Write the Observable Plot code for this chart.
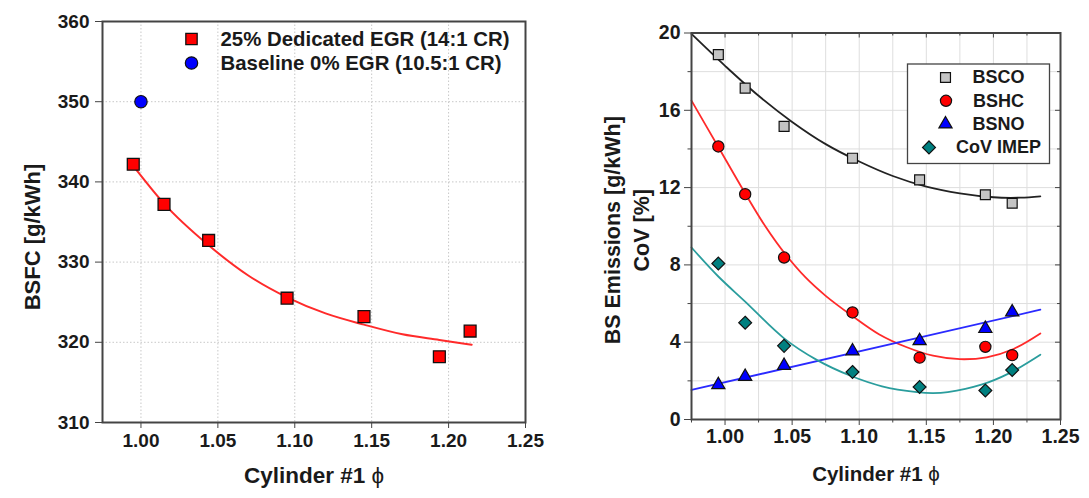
<!DOCTYPE html>
<html><head><meta charset="utf-8">
<script src="https://cdn.jsdelivr.net/npm/d3@7"></script>
<script src="https://cdn.jsdelivr.net/npm/@observablehq/plot@0.6"></script>
<style>
html,body{margin:0;padding:0;background:#fff;}
#wrap{position:relative;width:1089px;height:498px;overflow:hidden;background:#fff;}
#wrap svg{position:absolute;top:0;}
</style></head><body><div id="wrap"></div>
<script>
// ---------- DATA ----------
// shared equivalence ratios of the measured points
const phi = [0.995, 1.015, 1.044, 1.095, 1.145, 1.194, 1.214];

// left panel: BSFC
const bsfcEGR = [342.2, 337.2, 332.7, 325.5, 323.2, 318.2, 321.4];
const baselinePhi = [1.00];
const baselineBSFC = [350.0];
const bsfcFitPhi = [0.995, 1.015, 1.044, 1.07, 1.095, 1.12, 1.145, 1.17, 1.194, 1.215];
const bsfcFit    = [342.0, 337.3, 332.1, 328.3, 325.6, 323.6, 322.2, 321.0, 320.3, 319.7];
const leftLegend = ["25% Dedicated EGR (14:1 CR)", "Baseline 0% EGR (10.5:1 CR)"];

// right panel: emissions / CoV
const bsco    = [18.88, 17.15, 15.17, 13.52, 12.40, 11.63, 11.19];
const bshc    = [14.13, 11.66, 8.38, 5.54, 3.20, 3.76, 3.33];
const bsno    = [1.79, 2.22, 2.79, 3.54, 4.07, 4.70, 5.56];
const covImep = [8.07, 5.01, 3.81, 2.46, 1.68, 1.50, 2.56];

const bscoFitPhi = [0.975, 1.0, 1.025, 1.05, 1.075, 1.10, 1.125, 1.15, 1.175, 1.20, 1.22, 1.235];
const bscoFit    = [19.95, 18.3, 16.75, 15.4, 14.25, 13.35, 12.6, 12.05, 11.7, 11.5, 11.48, 11.55];
const bshcFitPhi = [0.975, 0.995, 1.015, 1.03, 1.045, 1.06, 1.075, 1.095, 1.115, 1.135, 1.155, 1.175, 1.195, 1.215, 1.235];
const bshcFit    = [16.5, 14.1, 11.7, 10.0, 8.55, 7.35, 6.4, 5.35, 4.4, 3.75, 3.3, 3.12, 3.22, 3.65, 4.45];
const bsnoFitPhi = [0.975, 1.235];
const bsnoFit    = [1.53, 5.68];
const covFitPhi  = [0.975, 0.995, 1.015, 1.044, 1.068, 1.094, 1.117, 1.143, 1.155, 1.166, 1.191, 1.212, 1.235];
const covFit     = [8.9, 7.4, 6.1, 4.2, 3.1, 2.25, 1.72, 1.42, 1.37, 1.42, 1.8, 2.4, 3.35];
const rightLegend = ["BSCO", "BSHC", "BSNO", "CoV IMEP"];

// ticks
const xMajor = [1.00, 1.05, 1.10, 1.15, 1.20, 1.25];
const xMinor = [0.975, 1.025, 1.075, 1.125, 1.175, 1.225];
const yLeftTicks = [310, 320, 330, 340, 350, 360];
const yRightMajor = [0, 4, 8, 12, 16, 20];
const yRightMinor = [2, 6, 10, 14, 18];

// ---------- BUILD ----------
const FONT = '"Liberation Sans", Arial, Helvetica, sans-serif';
const wrap = document.getElementById("wrap");
const pts = (xs, ys) => xs.map((x, i) => ({x, y: ys[i]}));
const fmt = d => d.toFixed(2);
const ctx = document.createElement("canvas").getContext("2d");
function textW(s, size) { ctx.font = `bold ${size}px ${FONT}`; return ctx.measureText(s).width; }

// Left panel
const LM = {l: 102, r: 20, t: 21, b: 76}, LW = 545, H = 498;
const left = Plot.plot({
  width: LW, height: H,
  marginLeft: LM.l, marginRight: LM.r, marginTop: LM.t, marginBottom: LM.b,
  style: {fontFamily: FONT, fontSize: "19px", fontWeight: "bold", color: "#1a1a1a", background: "transparent", overflow: "visible"},
  x: {domain: [0.975, 1.25]},
  y: {domain: [310, 360]},
  marks: [
    Plot.gridX({ticks: xMajor, stroke: "#c8c8c8", strokeOpacity: 1, strokeDasharray: "1.5,2"}),
    Plot.gridY({ticks: yLeftTicks, stroke: "#c8c8c8", strokeOpacity: 1, strokeDasharray: "1.5,2"}),
    Plot.line(pts(bsfcFitPhi, bsfcFit), {x: "x", y: "y", stroke: "#ff2a2a", strokeWidth: 2, curve: "monotone-x"}),
    Plot.dot(pts(phi, bsfcEGR), {x: "x", y: "y", symbol: "square", r: 6.7, fill: "#ff0000", stroke: "#111", strokeWidth: 1.3}),
    Plot.dot(pts(baselinePhi, baselineBSFC), {x: "x", y: "y", symbol: "circle", r: 6.2, fill: "#0000ff", stroke: "#111", strokeWidth: 1.2}),
    Plot.frame({stroke: "#444", strokeWidth: 2}),
    Plot.axisX({ticks: xMajor, tickFormat: fmt, tickSize: 6, tickPadding: 5, label: null, stroke: "#444"}),
    Plot.axisY({ticks: yLeftTicks, tickSize: 7, tickPadding: 6, label: null, stroke: "#444"}),
    Plot.text(["BSFC [g/kWh]"], {text: d => d, frameAnchor: "left", rotate: -90, dx: -70, dy: 15, fontSize: 22, fontWeight: "bold", textAnchor: "middle", lineAnchor: "middle"}),
    Plot.text(["Cylinder #1 ϕ"], {text: d => d, frameAnchor: "bottom", dy: 53, fontSize: 22.5, fontWeight: "bold", textAnchor: "middle", lineAnchor: "middle"}),
    // legend
    Plot.dot([leftLegend[0]], {frameAnchor: "top-left", dx: 89, dy: 17.5, symbol: "square", r: 6.4, fill: "#ff0000", stroke: "#111", strokeWidth: 1.3}),
    Plot.dot([leftLegend[1]], {frameAnchor: "top-left", dx: 89, dy: 41.5, symbol: "circle", r: 6.2, fill: "#0000ff", stroke: "#111", strokeWidth: 1.2}),
    Plot.text([leftLegend[0]], {text: d => d, frameAnchor: "top-left", dx: 118, dy: 18, fontSize: 20.4, fontWeight: "bold", textAnchor: "start", lineAnchor: "middle"}),
    Plot.text([leftLegend[1]], {text: d => d, frameAnchor: "top-left", dx: 118, dy: 42, fontSize: 20.4, fontWeight: "bold", textAnchor: "start", lineAnchor: "middle"})
  ]
});
left.style.left = "0px";
wrap.appendChild(left);

// Right panel
const RM = {l: 146, r: 29, t: 32.5, b: 79}, RW = 544;
const fw = RW - RM.l - RM.r, fh = H - RM.t - RM.b;
const legBox = {l: 216, r: 11, t: 31, b: 256};
const legFont = 18;
const legCenter = 307, legRow0 = 44.5, legStep = 23.3;
const legStyles = [
  {symbol: "square", r: 5.6, fill: "#c4c4c4"},
  {symbol: "circle", r: 5.6, fill: "#ff0000"},
  {symbol: "triangle", r: 4.9, fill: "#0000ff"},
  {symbol: "diamond2", r: 5.8, fill: "#008080"}
];
const legendMarks = rightLegend.flatMap((name, i) => {
  const w = textW(name, legFont);
  return [
    Plot.dot([name], {frameAnchor: "top-left", dx: legCenter - w / 2 - 27, dy: legRow0 + i * legStep, ...legStyles[i], stroke: "#111", strokeWidth: 1.2}),
    Plot.text([name], {text: d => d, frameAnchor: "top-left", dx: legCenter, dy: legRow0 + i * legStep, fontSize: legFont, fontWeight: "bold", textAnchor: "middle", lineAnchor: "middle"})
  ];
});
const right = Plot.plot({
  width: RW, height: H,
  marginLeft: RM.l, marginRight: RM.r, marginTop: RM.t, marginBottom: RM.b,
  style: {fontFamily: FONT, fontSize: "19.5px", fontWeight: "bold", color: "#1a1a1a", background: "transparent", overflow: "visible"},
  x: {domain: [0.975, 1.25]},
  y: {domain: [0, 20]},
  marks: [
    Plot.gridX({ticks: [...xMinor, ...xMajor], stroke: "#dedede", strokeOpacity: 1, strokeWidth: 1}),
    Plot.gridY({ticks: [...yRightMinor, ...yRightMajor], stroke: "#dedede", strokeOpacity: 1, strokeWidth: 1}),
    Plot.line(pts(bscoFitPhi, bscoFit), {x: "x", y: "y", stroke: "#222", strokeWidth: 1.8, curve: "catmull-rom"}),
    Plot.line(pts(bshcFitPhi, bshcFit), {x: "x", y: "y", stroke: "#ff2a2a", strokeWidth: 1.8, curve: "catmull-rom"}),
    Plot.line(pts(bsnoFitPhi, bsnoFit), {x: "x", y: "y", stroke: "#2a2aff", strokeWidth: 1.8}),
    Plot.line(pts(covFitPhi, covFit), {x: "x", y: "y", stroke: "#2a9d9d", strokeWidth: 1.8, curve: "catmull-rom"}),
    Plot.dot(pts(phi, bsco), {x: "x", y: "y", ...legStyles[0], stroke: "#111", strokeWidth: 1.2}),
    Plot.dot(pts(phi, bshc), {x: "x", y: "y", ...legStyles[1], stroke: "#111", strokeWidth: 1.2}),
    Plot.dot(pts(phi, bsno), {x: "x", y: "y", ...legStyles[2], stroke: "#111", strokeWidth: 1.2}),
    Plot.dot(pts(phi, covImep), {x: "x", y: "y", ...legStyles[3], stroke: "#111", strokeWidth: 1.2}),
    Plot.frame({stroke: "#444", strokeWidth: 2}),
    // outward ticks
    Plot.axisX({ticks: xMajor, tickFormat: fmt, tickSize: 6, tickPadding: 4, label: null, stroke: "#444"}),
    Plot.axisX({ticks: xMinor, tickSize: 3.5, text: null, label: null, stroke: "#444"}),
    Plot.axisY({ticks: yRightMajor, tickSize: 7, tickPadding: 4, label: null, stroke: "#444"}),
    Plot.axisY({ticks: yRightMinor, tickSize: 3.5, text: null, label: null, stroke: "#444"}),
    // inward ticks on top and right edges
    Plot.tickX(xMajor, {x: d => d, insetBottom: fh - 5, stroke: "#444"}),
    Plot.tickX(xMinor, {x: d => d, insetBottom: fh - 3, stroke: "#444"}),
    Plot.tickY(yRightMajor, {y: d => d, insetLeft: fw - 5, stroke: "#444"}),
    Plot.tickY(yRightMinor, {y: d => d, insetLeft: fw - 3, stroke: "#444"}),
    Plot.text(["BS Emissions [g/kWh]\nCoV [%]"], {text: d => d, frameAnchor: "left", rotate: -90, dx: -66, dy: 4, fontSize: 21.5, fontWeight: "bold", textAnchor: "middle", lineAnchor: "middle", lineHeight: 1.33}),
    Plot.text(["Cylinder #1 ϕ"], {text: d => d, frameAnchor: "bottom", dy: 55, fontSize: 20.5, fontWeight: "bold", textAnchor: "middle", lineAnchor: "middle"}),
    // legend box
    Plot.frame({insetLeft: legBox.l, insetRight: legBox.r, insetTop: legBox.t, insetBottom: legBox.b, stroke: "#444", strokeWidth: 1.3, fill: "#fff"}),
    ...legendMarks
  ]
});
right.style.left = "545px";
wrap.appendChild(right);

// render the phi glyph in the x titles in normal weight, as in the reference
document.querySelectorAll("#wrap text").forEach(t => {
  if (t.textContent === "Cylinder #1 ϕ") {
    t.textContent = "";
    const a = document.createElementNS("http://www.w3.org/2000/svg", "tspan");
    a.textContent = "Cylinder #1 ";
    const b = document.createElementNS("http://www.w3.org/2000/svg", "tspan");
    b.textContent = "ϕ";
    b.setAttribute("font-weight", "normal");
    t.appendChild(a); t.appendChild(b);
  }
});
</script></body></html>
